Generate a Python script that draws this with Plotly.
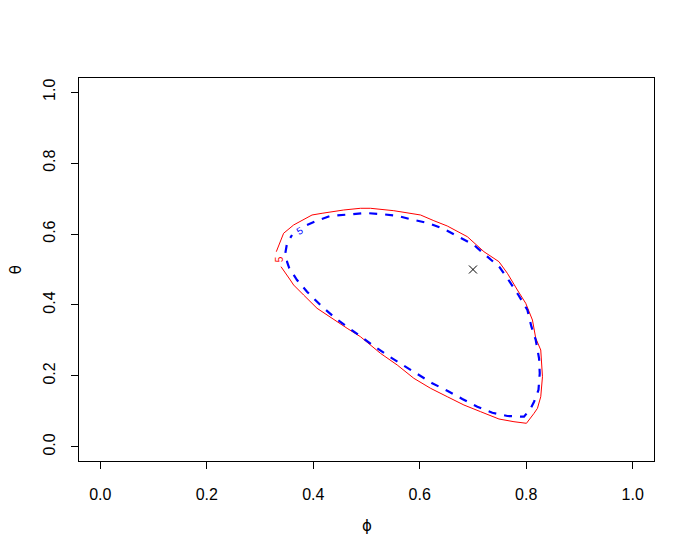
import plotly.graph_objects as go

# Outer (red, solid) contour
red_x = [0.3306, 0.3443, 0.3631, 0.3819, 0.3977, 0.4166, 0.4572, 0.4886, 0.5074, 0.5513,
         0.5827, 0.6015, 0.6265, 0.6517, 0.6894, 0.7206, 0.7488, 0.7646, 0.7834, 0.7991,
         0.8117, 0.8179, 0.8273, 0.8305, 0.8273, 0.8211, 0.8147, 0.8004, 0.7770, 0.7488,
         0.7144, 0.6830, 0.6517, 0.6203, 0.5889, 0.5577, 0.5262, 0.4886, 0.4636, 0.4322,
         0.4071, 0.3819, 0.3631, 0.3569, 0.3475, 0.3394]
red_y = [0.5502, 0.6021, 0.6255, 0.6396, 0.6537, 0.6585, 0.6678, 0.6726, 0.6726, 0.6658,
         0.6585, 0.6537, 0.6376, 0.6227, 0.5925, 0.5502, 0.5220, 0.4893, 0.4422, 0.4047,
         0.3576, 0.3060, 0.2730, 0.1977, 0.1413, 0.1086, 0.0945, 0.0663, 0.0708, 0.0784,
         0.0990, 0.1179, 0.1413, 0.1650, 0.1932, 0.2307, 0.2637, 0.3105, 0.3342, 0.3669,
         0.3906, 0.4281, 0.4563, 0.4704, 0.4893, 0.5079]

# Inner (blue, dashed) contour
blue_x = [0.3883, 0.4102, 0.4322, 0.4666, 0.4980, 0.5262, 0.5577, 0.5808, 0.6171, 0.6453,
          0.6736, 0.7018, 0.7270, 0.7501, 0.7676, 0.7853, 0.8022, 0.8098, 0.8179, 0.8241,
          0.8254, 0.8230, 0.8147, 0.8085, 0.7959, 0.7646, 0.7364, 0.7082, 0.6800, 0.6517,
          0.6235, 0.5953, 0.5701, 0.5451, 0.5200, 0.4918, 0.4666, 0.4416, 0.4166, 0.3883,
          0.3695, 0.3550, 0.3507, 0.3475, 0.3507, 0.3601]
blue_y = [0.6255, 0.6396, 0.6509, 0.6545, 0.6593, 0.6565, 0.6517, 0.6424, 0.6303, 0.6142,
          0.5925, 0.5691, 0.5361, 0.5062, 0.4684, 0.4281, 0.3858, 0.3387, 0.3012, 0.2496,
          0.2073, 0.1602, 0.1272, 0.1086, 0.0849, 0.0869, 0.0962, 0.1131, 0.1348, 0.1582,
          0.1791, 0.2053, 0.2307, 0.2524, 0.2778, 0.3088, 0.3342, 0.3624, 0.3951, 0.4374,
          0.4704, 0.5034, 0.5220, 0.5457, 0.5739, 0.5973]

# Point estimate
est_x = [0.7]
est_y = [0.5]

# Contour labels
label_text = "5"
red_label = (0.3362, 0.5296)
blue_label = (0.3752, 0.6086)

tick_vals = [0.0, 0.2, 0.4, 0.6, 0.8, 1.0]
tick_text = ["0.0", "0.2", "0.4", "0.6", "0.8", "1.0"]

fig = go.Figure()
fig.add_trace(go.Scatter(x=red_x, y=red_y, mode="lines",
                         line=dict(color="#FF0000", width=1), hoverinfo="skip"))
fig.add_trace(go.Scatter(x=blue_x, y=blue_y, mode="lines",
                         line=dict(color="#0000FF", width=2.2, dash="8px,8px"), hoverinfo="skip"))
fig.add_trace(go.Scatter(x=est_x, y=est_y, mode="markers",
                         marker=dict(symbol="x-thin", size=8, line=dict(color="black", width=1)),
                         hoverinfo="skip"))

fig.add_annotation(x=red_label[0], y=red_label[1], text=label_text, showarrow=False,
                   textangle=-90, bgcolor="white", borderpad=0,
                   font=dict(color="#FF0000", size=10, family="Liberation Sans"))
fig.add_annotation(x=blue_label[0], y=blue_label[1], text=label_text, showarrow=False,
                   textangle=-30, bgcolor="white", borderpad=0,
                   font=dict(color="#0000FF", size=10, family="Liberation Sans"))

fig.add_annotation(xref="paper", yref="paper", x=0.5, y=-0.17, yanchor="middle",
                   text="ϕ", showarrow=False, font=dict(size=15, color="black", family="DejaVu Sans"))
fig.add_annotation(xref="paper", yref="paper", x=-0.11, y=0.5, xanchor="center",
                   text="θ", showarrow=False, textangle=-90,
                   font=dict(size=15, color="black", family="DejaVu Sans"))

axis_common = dict(showgrid=False, zeroline=False, showline=True, mirror=True,
                   linecolor="black", linewidth=1, ticks="outside", ticklen=7,
                   tickcolor="black", tickwidth=1, tickvals=tick_vals, ticktext=tick_text,
                   tickfont=dict(size=16, color="black", family="Liberation Sans"))

fig.update_layout(
    width=694, height=559,
    margin=dict(l=71, r=48, t=70, b=106),
    paper_bgcolor="white", plot_bgcolor="white",
    showlegend=False,
    xaxis=dict(range=[-0.04, 1.04], ticklabelstandoff=12, **axis_common),
    yaxis=dict(range=[-0.04, 1.04], tickangle=-90, ticklabelstandoff=10, **axis_common),
)

fig.write_html("out.html")
